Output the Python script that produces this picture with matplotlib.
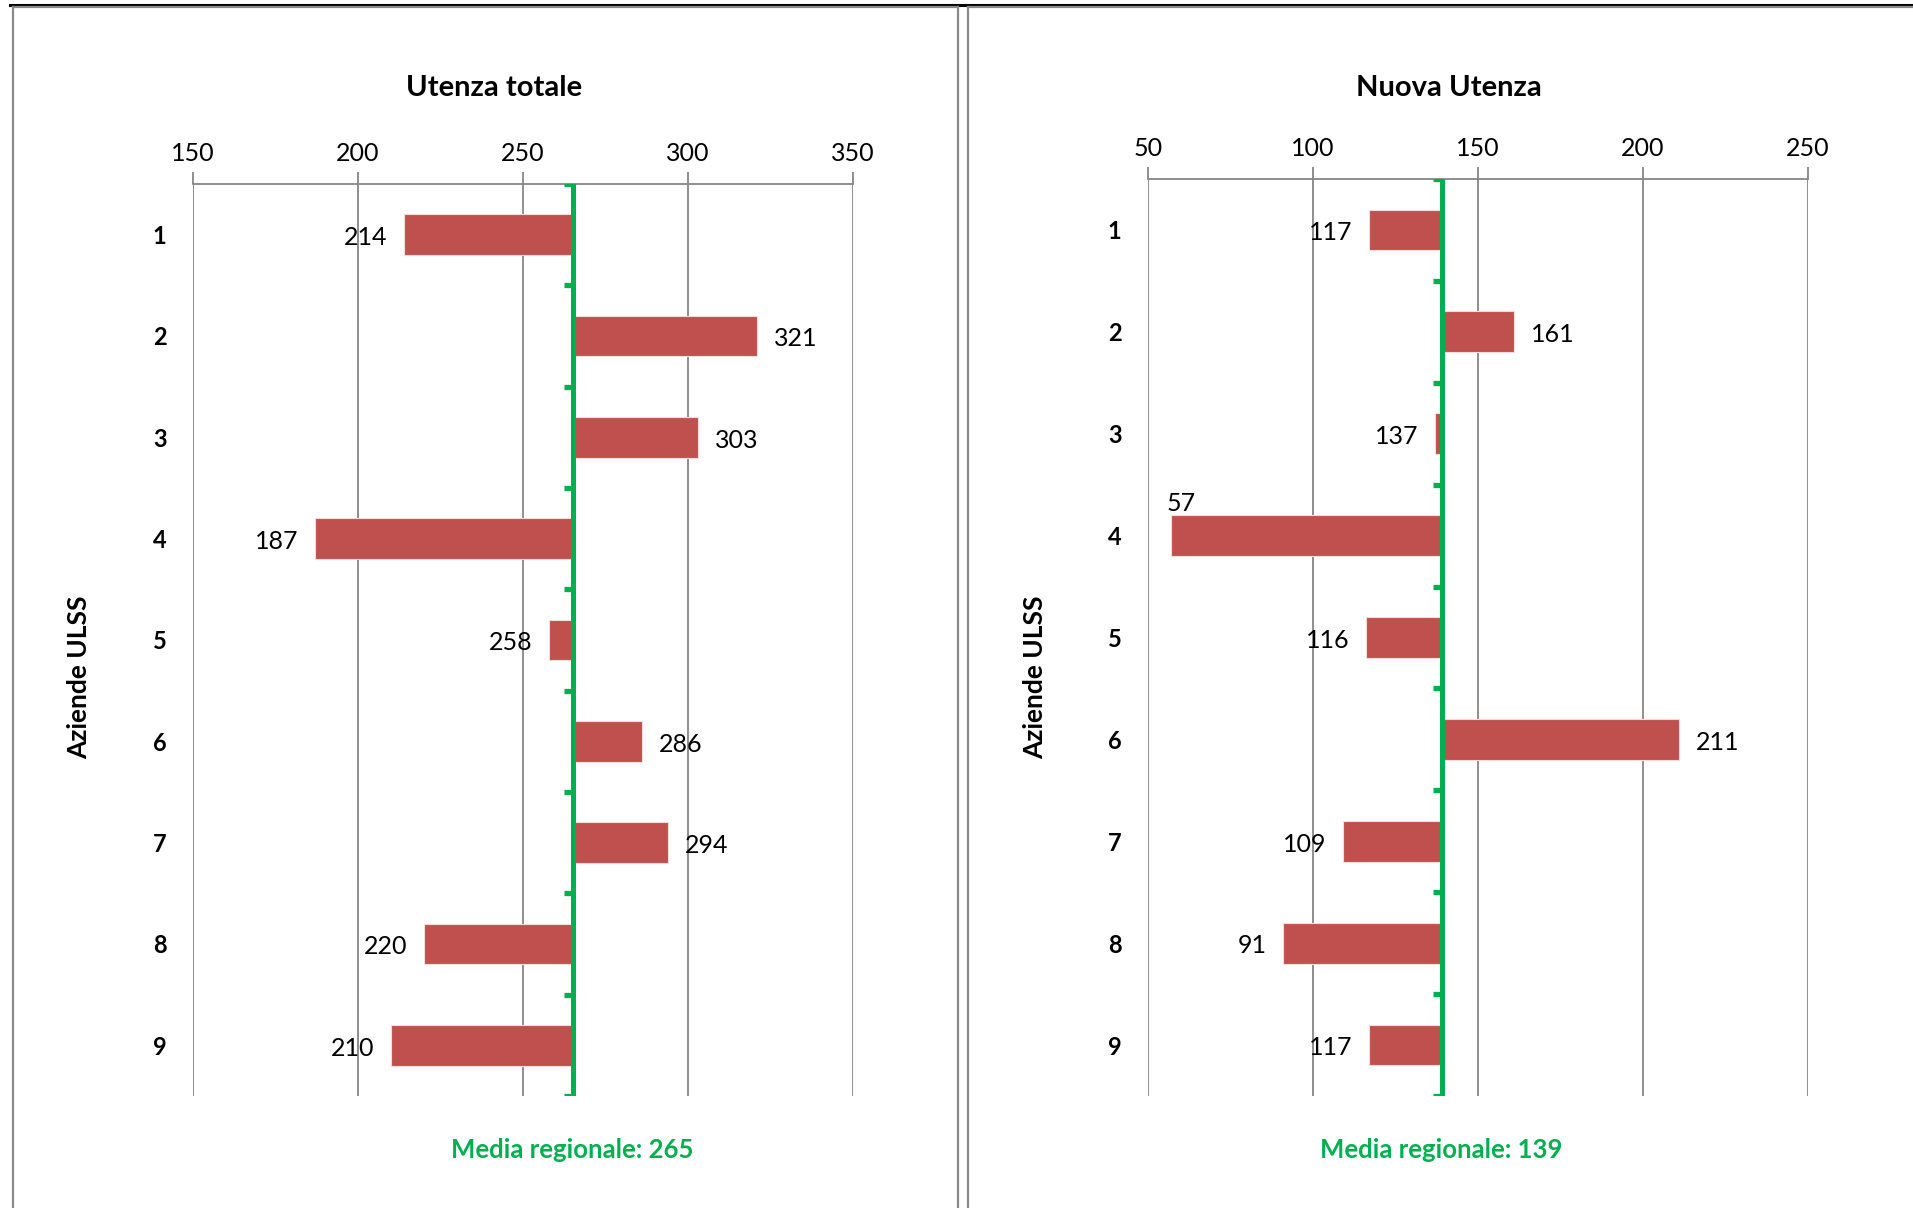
import matplotlib
matplotlib.use("Agg")
import matplotlib.pyplot as plt
from matplotlib.lines import Line2D
import numpy as np

plt.rcParams['font.family'] = ['Lato', 'DejaVu Sans']

# ---- data ----
categories = ['1', '2', '3', '4', '5', '6', '7', '8', '9']
utenza_totale = [214, 321, 303, 187, 258, 286, 294, 220, 210]
nuova_utenza = [117, 161, 137, 57, 116, 211, 109, 91, 117]
media_totale = 265
media_nuova = 139
titles = ['Utenza totale', 'Nuova Utenza']
xticks_totale = [150, 200, 250, 300, 350]
xticks_nuova = [50, 100, 150, 200, 250]
ylabel = 'Aziende ULSS'
media_label = 'Media regionale: {}'

W, H = 1913, 1208
fig = plt.figure(figsize=(W / 100, H / 100), dpi=100)

BAR = '#C0504D'
GREEN = '#00B050'
GRID = '#868686'


def fx(px):
    return px / W


def fy(py):
    return 1 - py / H


# frame decorations
fig.add_artist(Line2D([fx(10), 1], [fy(5), fy(5)], color='black', lw=2.2))
for x0, x1 in [(13, 958), (968, W + 5)]:
    fig.add_artist(Line2D([fx(x0), fx(x0)], [fy(7), fy(H + 5)], color='#8a8a8a', lw=1.6))
    fig.add_artist(Line2D([fx(x1), fx(x1)], [fy(7), fy(H + 5)], color='#8a8a8a', lw=1.6))
    fig.add_artist(Line2D([fx(x0), fx(x1)], [fy(7), fy(7)], color='#8a8a8a', lw=1.6))

panels = [
    dict(vals=utenza_totale, mean=media_totale, ticks=xticks_totale, title=titles[0],
         rect=[fx(193), fy(1096), fx(660), (1096 - 184) / H], title_x=494,
         ylab_x=79),
    dict(vals=nuova_utenza, mean=media_nuova, ticks=xticks_nuova, title=titles[1],
         rect=[fx(1148), fy(1096), fx(660), (1096 - 179) / H], title_x=1449,
         ylab_x=1035),
]

for p in panels:
    ax = fig.add_axes(p['rect'])
    vals = np.array(p['vals'], dtype=float)
    mean = p['mean']
    y = np.arange(1, len(categories) + 1)
    ax.barh(y, vals - mean, left=mean, height=0.4, color=BAR,
            edgecolor='#f3dcdb', linewidth=0.8, zorder=3)
    xmin, xmax = p['ticks'][0], p['ticks'][-1]
    ax.set_xlim(xmin, xmax)
    ax.set_ylim(len(categories) + 0.5, 0.5)
    ax.set_xticks(p['ticks'])
    ax.xaxis.tick_top()
    ax.tick_params(axis='x', length=9, width=1.3, color=GRID, pad=5,
                   labelsize=18, labelcolor='black')
    ax.grid(axis='x', color=GRID, lw=1.3, zorder=0)
    ax.set_yticks(y)
    ax.set_yticklabels(categories, fontweight='bold', fontsize=17)
    ax.tick_params(axis='y', length=0, pad=19)
    for s in ['left', 'right', 'bottom']:
        ax.spines[s].set_visible(False)
    ax.spines['top'].set_color(GRID)
    ax.spines['top'].set_linewidth(1.3)

    # mean line with ticks
    ax.axvline(mean, color=GREEN, lw=3.6, zorder=4)
    bounds = np.arange(0.5, len(categories) + 1, 1.0)
    ax.hlines(bounds, mean - 2.6, mean, color=GREEN, lw=3.8, zorder=4)

    # data labels
    for yi, v in zip(y, vals):
        if v < mean:
            if v - xmin < 15:
                ax.annotate(f'{int(v)}', (v, yi), xytext=(7, 23), textcoords='offset points',
                            ha='center', va='center', fontsize=18)
            else:
                ax.annotate(f'{int(v)}', (v, yi), xytext=(-12, -2), textcoords='offset points',
                            ha='right', va='center', fontsize=18)
        else:
            ax.annotate(f'{int(v)}', (v, yi), xytext=(12, -2), textcoords='offset points',
                        ha='left', va='center', fontsize=18)

    fig.text(fx(p['title_x']), fy(88), p['title'], ha='center', va='center',
             fontsize=21, fontweight='bold')
    fig.text(fx(p['ylab_x']), fy(677), ylabel, ha='center', va='center', rotation=90,
             fontsize=19, fontweight='bold')
    # media label centered at mean line
    mx = ax.transData.transform((mean, 0))[0]
    fig.text(mx / W, fy(1150), media_label.format(mean), ha='center', va='center',
             fontsize=18.5, fontweight='bold', color=GREEN)

fig.savefig('out.png', dpi=100)
